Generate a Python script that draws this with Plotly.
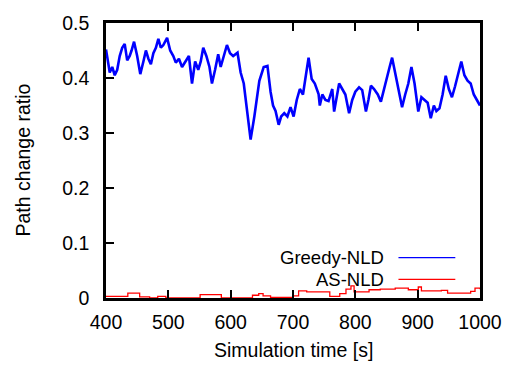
import plotly.graph_objects as go

# Greedy-NLD path change ratio
greedy_t = [400, 403, 406, 410, 414, 418, 422, 426, 430, 434, 438, 441, 445, 450, 455, 460, 464, 468, 472, 476,
            480, 484, 488, 492, 498, 503, 508, 512, 517, 522, 527, 533, 538, 543, 548, 552, 556, 561, 566, 570,
            575, 580, 584, 588, 594, 599, 604, 611, 616, 621, 627, 632, 638, 646, 653, 659, 664, 668, 672, 677,
            681, 686, 691, 696, 701, 706, 711, 716, 720, 725, 730, 735, 741, 743, 747, 752, 757, 763, 766, 770,
            774, 779, 784, 790, 795, 800, 806, 811, 817, 821, 825, 830, 836, 841, 846, 851, 855, 859, 863, 867,
            875, 880, 885, 890, 895, 901, 906, 911, 916, 921, 926, 930, 935, 940, 945, 950, 955, 960, 965, 970,
            975, 980, 985, 990, 995, 1000]
greedy_v = [0.452, 0.43, 0.41, 0.42, 0.405, 0.415, 0.44, 0.455, 0.462, 0.432, 0.44, 0.45, 0.466, 0.44, 0.407, 0.43, 0.45, 0.435, 0.425, 0.445,
            0.455, 0.471, 0.455, 0.46, 0.473, 0.45, 0.44, 0.428, 0.435, 0.42, 0.43, 0.44, 0.39, 0.43, 0.415, 0.43, 0.455, 0.44, 0.42, 0.39,
            0.415, 0.443, 0.42, 0.435, 0.46, 0.445, 0.44, 0.446, 0.41, 0.39, 0.33, 0.288, 0.33, 0.395, 0.42, 0.422, 0.375, 0.35, 0.34, 0.315,
            0.33, 0.336, 0.33, 0.347, 0.33, 0.36, 0.38, 0.37, 0.40, 0.437, 0.398, 0.39, 0.371, 0.35, 0.37, 0.36, 0.358, 0.38, 0.339, 0.365,
            0.39, 0.38, 0.37, 0.336, 0.36, 0.375, 0.383, 0.378, 0.339, 0.36, 0.386, 0.38, 0.37, 0.357, 0.38, 0.407, 0.42, 0.437, 0.415, 0.39,
            0.347, 0.37, 0.39, 0.42, 0.39, 0.339, 0.365, 0.36, 0.355, 0.327, 0.35, 0.34, 0.345, 0.37, 0.404, 0.38, 0.365, 0.385, 0.41, 0.43,
            0.405, 0.395, 0.39, 0.37, 0.36, 0.35]

# AS-NLD path change ratio (step-like)
as_t = [400, 435, 454, 470, 483, 496, 551, 585, 635, 645, 652, 664, 700, 709, 722, 759, 775, 785, 793, 798,
        822, 840, 864, 885, 901, 906, 938, 948, 985, 992, 1000]
as_v = [0.003, 0.009, 0.002, 0.0, 0.003, 0.0, 0.006, 0.0, 0.005, 0.008, 0.004, 0.001, 0.004, 0.013, 0.011, 0.003, 0.008, 0.016, 0.022, 0.011,
        0.015, 0.016, 0.018, 0.015, 0.02, 0.013, 0.014, 0.009, 0.012, 0.018, 0.016]

x_ticks = [400, 500, 600, 700, 800, 900, 1000]
y_ticks = [0, 0.1, 0.2, 0.3, 0.4, 0.5]
y_tick_text = ["0", "0.1", "0.2", "0.3", "0.4", "0.5"]

FONT = "Liberation Sans, Arial, sans-serif"
FS = 19.5
LFS = 18.5

fig = go.Figure()
fig.add_trace(go.Scatter(x=greedy_t, y=greedy_v, mode="lines", name="Greedy-NLD",
                         line=dict(color="#0000ff", width=2.6)))
fig.add_trace(go.Scatter(x=as_t, y=as_v, mode="lines", name="AS-NLD",
                         line=dict(color="#ff0000", width=1.3, shape="hv")))

fig.update_layout(
    width=514, height=365,
    margin=dict(l=106, r=28, t=19, b=67),
    paper_bgcolor="white", plot_bgcolor="white",
    showlegend=False,
    font=dict(family=FONT, size=FS, color="black"),
)
fig.update_xaxes(range=[400, 1000], tickvals=x_ticks, ticks="inside", ticklen=8, tickwidth=2,
                 tickcolor="black", showline=True, linecolor="black", linewidth=2.5, mirror="ticks",
                 showgrid=False, zeroline=False, tickfont=dict(size=FS), ticklabelstandoff=5)
fig.update_yaxes(range=[0, 0.5], tickvals=y_ticks, ticktext=y_tick_text, ticks="inside", ticklen=8, tickwidth=2,
                 tickcolor="black", showline=True, linecolor="black", linewidth=2.5, mirror=True,
                 showgrid=False, zeroline=False, tickfont=dict(size=FS), ticklabelstandoff=10)

# axis titles
fig.add_annotation(text="Simulation time [s]", xref="paper", yref="paper", x=0.5, y=0,
                   yshift=-52, xanchor="center", yanchor="middle", showarrow=False,
                   font=dict(size=FS))
fig.add_annotation(text="Path change ratio", xref="paper", yref="paper", x=0, y=0.5,
                   xshift=-84, xanchor="center", yanchor="middle", textangle=-90, showarrow=False,
                   font=dict(size=FS))

# legend (gnuplot style: text then sample line)
leg = [("Greedy-NLD", "#0000ff", 0.147), ("AS-NLD", "#ff0000", 0.068)]
for name, col, yp in leg:
    fig.add_annotation(text=name, xref="paper", yref="paper", x=0.747, y=yp,
                       xanchor="right", yanchor="middle", showarrow=False,
                       font=dict(size=LFS), borderpad=0)
    fig.add_shape(type="line", xref="paper", yref="paper", x0=0.782, x1=0.934, y0=yp, y1=yp,
                  line=dict(color=col, width=1.3))

fig.write_html("out.html")
